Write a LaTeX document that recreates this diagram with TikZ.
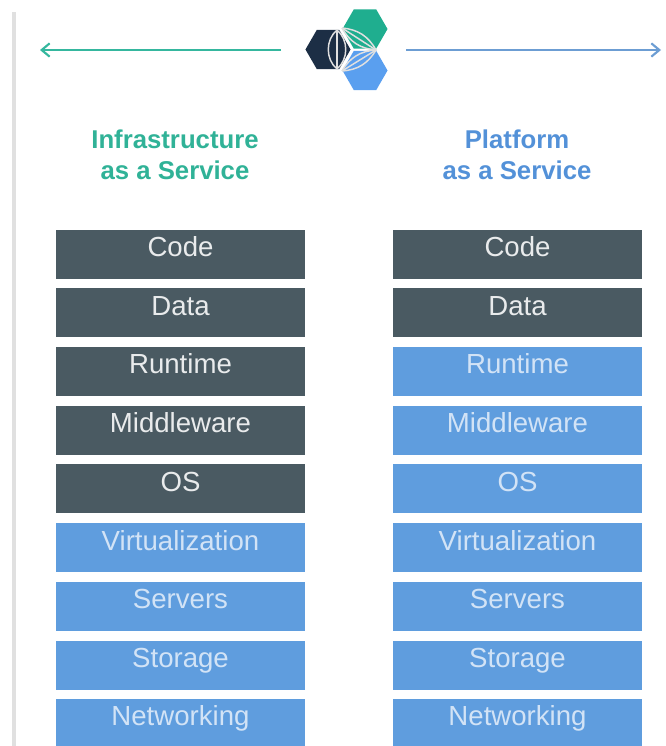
\documentclass[tikz,border=0pt]{standalone}
\usepackage{fontspec}
\setmainfont{Liberation Sans}
\usetikzlibrary{chains}
\usetikzlibrary{arrows.meta}
\usetikzlibrary{shapes.geometric}
\definecolor{slatebox}{HTML}{4A5A62}
\definecolor{bluebox}{HTML}{5F9DDE}
\definecolor{tealtext}{HTML}{30B297}
\definecolor{bluetext}{HTML}{5391D8}
\definecolor{tealarrow}{HTML}{35B79E}
\definecolor{bluearrow}{HTML}{6C9DD3}
\definecolor{hexgreen}{HTML}{1FAE8F}
\definecolor{hexnavy}{HTML}{1C2E45}
\definecolor{hexblue}{HTML}{5A9FEF}
\begin{document}
\begin{tikzpicture}[
	x=0.75pt,y=-0.75pt,
	start chain=iaas going below,
	start chain=paas going below,
	box/.style={
		on chain=#1,
		minimum height=36.75pt,
		minimum width=186.75pt,
		inner sep=0pt,outer sep=0pt,
		text centered,
		font=\fontsize{20.7}{25}\selectfont,
		text height=11pt,text depth=7.5pt,
	},
	slate/.style={box=#1,fill=slatebox,text=white!88!slatebox},
	blue/.style={box=#1,fill=bluebox,text=white!72!bluebox},
	heading/.style={align=center,font=\fontsize{19.3}{23.2}\selectfont\bfseries},
	hex/.style={regular polygon,regular polygon sides=6,minimum size=33.8pt,inner sep=0pt},
	lens/.style={draw=white!88!black,line width=1.1pt},
	node distance=7.3pt
]
\useasboundingbox (0,0) rectangle (666,746);
% rule on the left
\draw [line width=2.8pt,black!12] (14,12) -- (14,746);
% logo
\node [hex,fill=hexgreen] (green) at (365,29) {};
\node [hex,fill=hexnavy] (navy) at (328,49.5) {};
\node [hex,fill=hexblue] (sky) at (365,70.5) {};
\coordinate (hub) at (376,50);
\draw [lens] (337,30) -- (337,69);
\draw [lens] (337,30) to[bend right=50] (337,69);
\draw [lens] (337,30) to[bend left=50] (337,69);
\draw [lens] (342,28) -- (hub) -- (342,71);
\draw [lens] (342,28) to[bend left=28] (hub);
\draw [lens] (342,28) to[bend right=28] (hub);
\draw [lens] (hub) to[bend left=28] (342,71);
\draw [lens] (hub) to[bend right=28] (342,71);
% arrows
\coordinate (leftend) at (40,50);
\coordinate (rightend) at (661,50);
\coordinate (leftstart) at (281,50);
\coordinate (rightstart) at (406,50);
\draw [-{Straight Barb[length=6pt,width=10pt,line width=1.6pt]},line width=2pt,tealarrow] (leftstart) -- (leftend);
\draw [-{Straight Barb[length=6pt,width=10pt,line width=1.6pt]},line width=2pt,bluearrow] (rightstart) -- (rightend);
% headings
\node [heading,text=tealtext] (iaas) at (175,155) {Infrastructure\\as a Service};
\node [heading,text=bluetext] (paas) at (517,155) {Platform\\as a Service};
% first column
\node [slate=iaas] (code1) at (180.5,254) {Code};
\node [slate=iaas] (data1) {Data};
\node [slate=iaas] (runtime1) {Runtime};
\node [slate=iaas] (middleware1) {Middleware};
\node [slate=iaas] (os1) {OS};
\node [blue=iaas] (virt1) {Virtualization};
\node [blue=iaas] (servers1) {Servers};
\node [blue=iaas] (storage1) {Storage};
\node [blue=iaas,minimum height=35.25pt] (net1) {Networking};
% second column
\node [slate=paas] (code2) at (517.5,254) {Code};
\node [slate=paas] (data2) {Data};
\node [blue=paas] (runtime2) {Runtime};
\node [blue=paas] (middleware2) {Middleware};
\node [blue=paas] (os2) {OS};
\node [blue=paas] (virt2) {Virtualization};
\node [blue=paas] (servers2) {Servers};
\node [blue=paas] (storage2) {Storage};
\node [blue=paas,minimum height=35.25pt] (net2) {Networking};
\end{tikzpicture}
\end{document}
